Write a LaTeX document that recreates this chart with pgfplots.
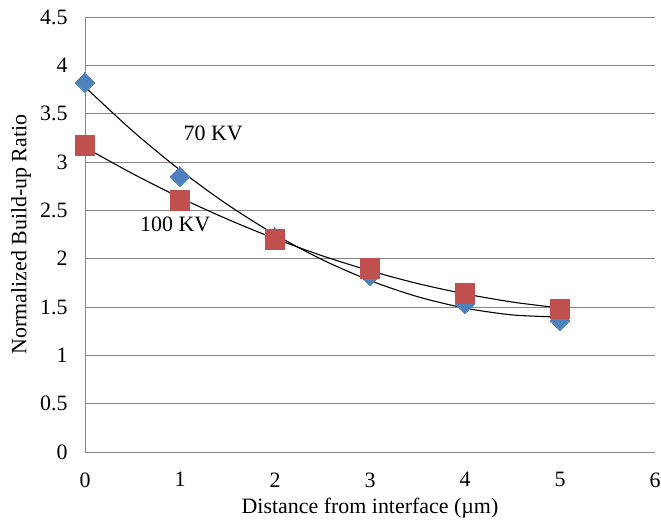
\documentclass[border=0pt]{standalone}
\usepackage{pgfplots}
\pgfplotsset{compat=1.18}
\usepackage{fontspec}
\setmainfont{Liberation Serif}
\definecolor{xlblue}{HTML}{4F81BD}
\definecolor{xlred}{HTML}{C0504D}
\definecolor{gridgray}{HTML}{868686}
\begin{document}
\fontsize{22}{26}\selectfont
\begin{tikzpicture}
\begin{axis}[
  at={(0,0)}, anchor=south west,
  scale only axis, width=570bp, height=435bp,
  xmin=0, xmax=6, ymin=0, ymax=4.5,
  xtick={0,1,2,3,4,5,6},
  ytick={0,0.5,1,1.5,2,2.5,3,3.5,4,4.5},
  yticklabels={0,0.5,1,1.5,2,2.5,3,3.5,4,4.5},
  xticklabels={0,1,2,3,4,5,6},
  axis lines=left,
  axis line style={draw=gridgray, line width=0.9pt, -},
  ymajorgrids, grid style={draw=gridgray, line width=0.9pt},
  major tick length=0pt,
  tick label style={font=\fontsize{22}{26}\selectfont},
  /pgf/number format/assume math mode=true,
  xticklabel style={yshift=-13bp},
  yticklabel style={xshift=-10bp},
  label style={font=\fontsize{22}{26}\selectfont},
  xlabel={Distance from interface (µm)},
  ylabel={Normalized Build-up Ratio},
  xlabel style={at={(axis description cs:0.5,0)}, anchor=center, yshift=-56bp},
  ylabel style={at={(axis description cs:0,0.5)}, anchor=center, rotate=0, yshift=64bp},
  clip=false,
]
% 70 KV data
\addplot[xlblue, only marks, mark=square*, mark size=6.9bp, mark options={rotate=45, fill=xlblue, draw=xlblue, line width=0pt}]
  coordinates {(0,3.82) (1,2.85) (2,2.22) (3,1.82) (4,1.53) (5,1.36)};
% 100 KV data
\addplot[xlred, only marks, mark=square*, mark size=9.7bp, mark options={fill=xlred, draw=xlred, line width=0pt}]
  coordinates {(0,3.17) (1,2.60) (2,2.20) (3,1.90) (4,1.64) (5,1.48)};
% trendlines (polynomial, order 2)
\addplot[black, line width=1.1pt, smooth, no marks]
  coordinates {(0,3.776) (0.5,3.322) (1,2.917) (1.5,2.559) (2,2.250) (2.5,1.988) (3,1.774) (3.5,1.607) (4,1.489) (4.5,1.418) (5,1.396)};
\addplot[black, line width=1.1pt, smooth, no marks]
  coordinates {(0,3.151) (0.5,2.880) (1,2.632) (1.5,2.408) (2,2.207) (2.5,2.029) (3,1.875) (3.5,1.743) (4,1.636) (4.5,1.551) (5,1.490)};
\node[font=\fontsize{22}{26}\selectfont] at (axis cs:1.35,3.30) {70 KV};
\node[font=\fontsize{22}{26}\selectfont] at (axis cs:0.95,2.35) {100 KV};
\end{axis}
\pgfresetboundingbox
\path[use as bounding box] (-85bp,-69bp) rectangle (576bp,452bp);
\end{tikzpicture}
\end{document}
